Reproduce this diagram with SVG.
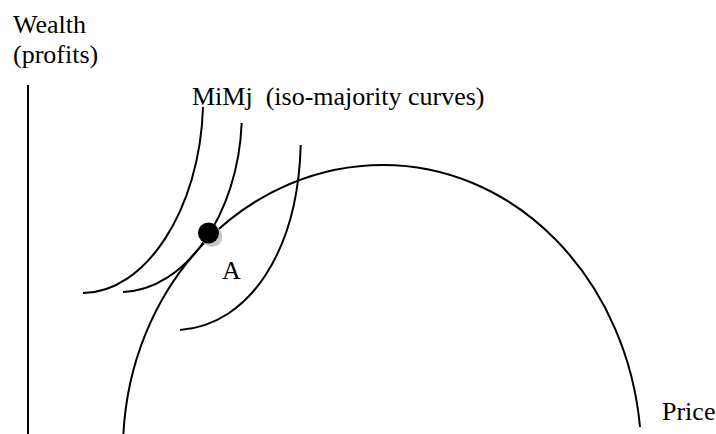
<svg xmlns="http://www.w3.org/2000/svg" width="716" height="434" viewBox="0 0 716 434">
<style>
.t{font-family:"Liberation Serif","Times New Roman",serif;font-size:26px;fill:#000}
.c{fill:none;stroke:#000;stroke-width:2;stroke-linecap:butt}
</style>
<rect width="716" height="434" fill="#fff"/>
<g id="axis">
<line class="c" x1="28" y1="85" x2="28" y2="434"/>
<text class="t" x="13" y="33">Wealth</text>
<text class="t" x="13" y="63">(profits)</text>
<text class="t" x="662" y="420">Price</text>
</g>
<g id="connectors">
<path id="profit-curve" class="c" d="M123.4,434 A260,285 0 0 1 383,165 A258,292 0 0 1 640,427"/>
<path id="iso1" class="c" d="M203,107 C200,210 145,293 83,293"/>
<path id="iso2" class="c" d="M241.7,123 C238,215 185,290 123,292"/>
<path id="iso3" class="c" d="M300.7,145 C298,250 250,325 180,330"/>
</g>
<g id="label-iso">
<text class="t" x="192" y="105" xml:space="preserve">MiMj  (iso-majority curves)</text>
</g>
<g id="point-A">
<circle cx="212" cy="236.5" r="10.5" fill="#c8c8c8"/>
<circle cx="208.5" cy="233" r="10.5" fill="#000"/>
<text class="t" x="222" y="279">A</text>
</g>
</svg>
